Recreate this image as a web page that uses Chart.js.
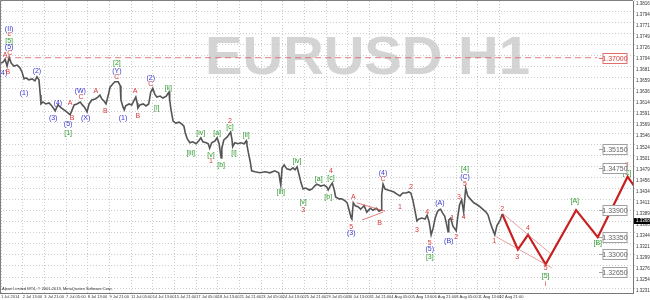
<!DOCTYPE html>
<html>
<head>
<meta charset="utf-8">
<script src="https://cdn.jsdelivr.net/npm/chart.js@4"></script>
<style>
  html, body { margin: 0; padding: 0; background: #fff; }
  canvas { display: block; }
</style>
</head>
<body>
<canvas id="eurusdChart" width="650" height="300"></canvas>
<script>
// time axis: one unit = one H1 bar, labels every 32 bars
const xTickBars = [0, 32, 64, 96, 128, 160, 192, 224, 256, 288, 320, 352, 384, 416, 448, 480, 512, 544, 576, 608, 640, 672, 704, 736];
const xTickLabels = ['1 Jul 2014', '2 Jul 13:00', '3 Jul 21:00', '7 Jul 05:00', '8 Jul 13:00', '9 Jul 21:00', '11 Jul 05:00',
    '14 Jul 13:00', '15 Jul 21:00', '17 Jul 05:00', '18 Jul 13:00', '21 Jul 21:00', '23 Jul 05:00', '24 Jul 13:00',
    '25 Jul 21:00', '29 Jul 05:00', '30 Jul 13:00', '31 Jul 21:00', '4 Aug 05:00', '5 Aug 13:00', '6 Aug 21:00',
    '8 Aug 05:00', '11 Aug 13:00', '12 Aug 21:00'];

const yTicks = [1.32315, 1.32540, 1.32765, 1.32990, 1.33215, 1.33440, 1.33665, 1.33890, 1.34115, 1.34340, 1.34565,
    1.34790, 1.35015, 1.35240, 1.35465, 1.35690, 1.35915, 1.36140, 1.36365, 1.36590, 1.36815, 1.37040, 1.37265,
    1.37490, 1.37715, 1.37940, 1.38165];
const yMin = 1.32216;
const yMax = 1.38153;

// EURUSD price path (bar index / price)
const priceBars = [0, 3, 6, 9, 12, 15, 19, 24, 28, 31, 34, 37, 41, 46, 50, 53, 56, 58, 59, 62, 66, 71, 75, 80, 84, 89, 93, 97,
    102, 105, 108, 112, 117, 120, 123, 127, 130, 134, 139, 143, 146, 149, 152, 155, 158, 161, 164, 168, 173, 176, 177, 180,
    182, 184, 189, 193, 196, 199, 201, 202, 205, 210, 214, 218, 221, 224, 227, 230, 235, 239, 244, 248, 249, 251, 254, 258,
    263, 267, 270, 272, 275, 279, 283, 288, 292, 295, 298, 303, 306, 308, 311, 316, 319, 322, 325, 326, 329, 334, 337, 339,
    341, 342, 345, 350, 354, 359, 362, 363, 365, 368, 370, 375, 382, 390, 397, 404, 410, 413, 415, 418, 422, 427, 431, 434,
    437, 440, 443, 446, 450, 455, 459, 463, 466, 469, 472, 477, 481, 483, 486, 489, 492, 494, 499, 503, 508, 511, 514, 517,
    518, 520, 523, 527, 531, 536, 540, 545, 549, 554, 558, 561, 562, 564, 567, 571, 576, 580, 584, 589, 593, 598, 602, 605,
    608, 611, 614, 617, 621, 626, 629, 632, 635, 638, 641, 644, 646, 649, 652, 655, 658, 660, 661, 664, 667, 672, 674, 677,
    680, 683, 686, 689, 694, 698, 703, 707, 711, 716, 719, 722, 725, 729, 732, 737, 740];
const priceValues = [1.3689, 1.3691, 1.3697, 1.3683, 1.3701, 1.3689, 1.3683, 1.3685, 1.3679, 1.3671, 1.3657, 1.3659, 1.3655,
    1.3657, 1.3653, 1.3661, 1.3655, 1.3624, 1.3606, 1.3610, 1.3606, 1.3608, 1.3602, 1.3592, 1.3604, 1.3598, 1.3594, 1.3590,
    1.3584, 1.3594, 1.3604, 1.3606, 1.3610, 1.3604, 1.3600, 1.3590, 1.3606, 1.3614, 1.3616, 1.3620, 1.3624, 1.3616, 1.3612,
    1.3606, 1.3622, 1.3640, 1.3645, 1.3651, 1.3651, 1.3643, 1.3614, 1.3600, 1.3594, 1.3602, 1.3606, 1.3604, 1.3612, 1.3620,
    1.3608, 1.3598, 1.3604, 1.3606, 1.3602, 1.3606, 1.3630, 1.3638, 1.3626, 1.3620, 1.3622, 1.3618, 1.3622, 1.3630, 1.3614,
    1.3594, 1.3571, 1.3567, 1.3569, 1.3565, 1.3561, 1.3547, 1.3535, 1.3527, 1.3529, 1.3525, 1.3531, 1.3537, 1.3529, 1.3527,
    1.3525, 1.3516, 1.3527, 1.3531, 1.3537, 1.3525, 1.3496, 1.3516, 1.3533, 1.3539, 1.3545, 1.3549, 1.3533, 1.3519, 1.3527,
    1.3525, 1.3527, 1.3525, 1.3531, 1.3523, 1.3508, 1.3488, 1.3470, 1.3468, 1.3466, 1.3468, 1.3466, 1.3470, 1.3466, 1.3441,
    1.3476, 1.3482, 1.3474, 1.3472, 1.3476, 1.3472, 1.3478, 1.3462, 1.3445, 1.3433, 1.3435, 1.3431, 1.3433, 1.3439, 1.3443,
    1.3441, 1.3439, 1.3441, 1.3437, 1.3431, 1.3439, 1.3445, 1.3431, 1.3417, 1.3413, 1.3413, 1.3409, 1.3405, 1.3390, 1.3374,
    1.3372, 1.3405, 1.3399, 1.3397, 1.3392, 1.3399, 1.3386, 1.3394, 1.3390, 1.3394, 1.3388, 1.3390, 1.3421, 1.3443, 1.3433,
    1.3431, 1.3429, 1.3427, 1.3423, 1.3419, 1.3425, 1.3425, 1.3427, 1.3425, 1.3411, 1.3390, 1.3368, 1.3372, 1.3374, 1.3372,
    1.3380, 1.3366, 1.3340, 1.3354, 1.3374, 1.3386, 1.3390, 1.3392, 1.3384, 1.3378, 1.3360, 1.3346, 1.3370, 1.3374, 1.3358,
    1.3348, 1.3374, 1.3401, 1.3411, 1.3386, 1.3435, 1.3419, 1.3411, 1.3405, 1.3401, 1.3397, 1.3392, 1.3386, 1.3380, 1.3366,
    1.3354, 1.3340, 1.3358, 1.3370, 1.3382];
const currentPrice = 1.3368;

// projected wave path
const projBars = [740, 763, 778, 804, 849, 881, 925, 943];
const projValues = [1.3382, 1.3310, 1.3340, 1.3280, 1.3390, 1.3335, 1.3458, 1.3423];

// thin channel / triangle lines
const channelTopBars = [740, 812];
const channelTopValues = [1.3384, 1.3301];
const channelLowBars = [731, 813];
const channelLowValues = [1.3336, 1.3273];
const triTopBars = [525, 567];
const triTopValues = [1.3405, 1.3388];
const triLowBars = [533, 564];
const triLowValues = [1.3370, 1.3386];

// horizontal levels with price boxes
const redLevel = 1.37;
const redLevelBars = [6, 880];
const grayLevels = [1.3515, 1.3475, 1.3390, 1.3335, 1.3300, 1.3265];

// wave labels: text, bar, price, colour
const waveLabels = [
    ['(II)', 12, 1.3758, 'b'], ['c', 12, 1.3748, 'r'], ['[5]', 12, 1.3734, 'g'], ['(5)', 12, 1.3722, 'b'],
    ['A', 6, 1.3706, 'r'], ['C', 13, 1.3710, 'r'], ['(4)', 3, 1.3669, 'b'], ['B', 10, 1.3671, 'r'],
    ['(1)', 34, 1.3628, 'b'], ['(2)', 53, 1.3673, 'b'], ['(3)', 77, 1.3577, 'b'], ['(4)', 84, 1.3608, 'b'],
    ['A', 102, 1.3608, 'r'], ['B', 105, 1.3577, 'r'], ['(5)', 99, 1.3565, 'b'], ['[1]', 99, 1.3547, 'g'],
    ['(W)', 117, 1.3632, 'b'], ['C', 118, 1.3620, 'r'], ['(X)', 125, 1.3577, 'b'], ['A', 140, 1.3632, 'r'],
    ['B', 154, 1.3592, 'r'], ['[2]', 171, 1.3689, 'g'], ['(Y)', 171, 1.3673, 'b'], ['C', 171, 1.3661, 'r'],
    ['(1)', 180, 1.3577, 'b'], ['A', 198, 1.3632, 'r'], ['B', 202, 1.3582, 'r'], ['(2)', 221, 1.3659, 'b'],
    ['C', 221, 1.3647, 'r'], ['[i]', 230, 1.3598, 'g'], ['[ii]', 247, 1.3638, 'g'], ['[iii]', 280, 1.3506, 'g'],
    ['[iv]', 295, 1.3547, 'g'], ['[v]', 310, 1.3502, 'g'], ['1', 310, 1.3490, 'r'], ['[a]', 319, 1.3547, 'g'],
    ['[b]', 325, 1.3482, 'g'], ['2', 338, 1.3571, 'r'], ['[c]', 338, 1.3559, 'g'], ['[i]', 344, 1.3506, 'g'],
    ['[ii]', 362, 1.3543, 'g'], ['[iii]', 413, 1.3427, 'g'], ['[iv]', 437, 1.3490, 'g'], ['[v]', 446, 1.3407, 'g'],
    ['3', 446, 1.3390, 'r'], ['[a]', 469, 1.3453, 'g'], ['4', 487, 1.3470, 'r'], ['[c]', 487, 1.3455, 'g'],
    ['[b]', 483, 1.3417, 'g'], ['5', 517, 1.3356, 'r'], ['(3)', 517, 1.3344, 'b'], ['A', 520, 1.3417, 'r'],
    ['B', 559, 1.3364, 'r'], ['(4)', 564, 1.3466, 'b'], ['C', 564, 1.3453, 'r'], ['1', 589, 1.3397, 'r'],
    ['2', 605, 1.3437, 'r'], ['3', 614, 1.3350, 'r'], ['4', 629, 1.3386, 'r'], ['5', 633, 1.3323, 'r'],
    ['(5)', 633, 1.3311, 'b'], ['[3]', 633, 1.3295, 'g'], ['(A)', 648, 1.3405, 'b'], ['1', 666, 1.3374, 'r'],
    ['(B)', 661, 1.3327, 'b'], ['2', 672, 1.3336, 'r'], ['3', 676, 1.3417, 'r'], ['4', 683, 1.3376, 'r'],
    ['5', 685, 1.3443, 'r'], ['(C)', 685, 1.3458, 'b'], ['[4]', 685, 1.3474, 'g'], ['1', 728, 1.3327, 'r'],
    ['2', 740, 1.3392, 'r'], ['3', 762, 1.3295, 'r'], ['4', 778, 1.3354, 'r'], ['5', 804, 1.3272, 'r'],
    ['[5]', 804, 1.3256, 'g'], ['i', 804, 1.3240, 'r'], ['[A]', 847, 1.3409, 'g'], ['[B]', 881, 1.3323, 'g'],
    ['[C]', 924, 1.3466, 'g'], ['ii', 924, 1.3482, 'r']
];
const waveColors = { r: '#d83a3a', b: '#3838d0', g: '#2f9a2f' };

const watermark = 'EURUSD H1';
const copyright = 'Alpari Limited MT4, \u00a9 2001-2013, MetaQuotes Software Corp.';

function points(bars, values) {
    return bars.map((b, i) => ({ x: b, y: values[i] }));
}

function lineSet(bars, values, color, width, dash) {
    return {
        data: points(bars, values),
        borderColor: color,
        borderWidth: width,
        borderDash: dash || [],
        pointRadius: 0,
        tension: 0,
        fill: false
    };
}

const chartDecor = {
    id: 'chartDecor',
    beforeDraw(chart) {
        const ctx = chart.ctx;
        ctx.save();
        ctx.fillStyle = '#ffffff';
        ctx.fillRect(0, 0, chart.width, chart.height);
        ctx.font = 'bold 53px "Liberation Sans", Arial, sans-serif';
        const w = ctx.measureText(watermark).width;
        ctx.translate(205, 74);
        ctx.scale(325 / w, 1);
        ctx.fillStyle = '#d4d4d4';
        ctx.textBaseline = 'alphabetic';
        ctx.fillText(watermark, 0, 0);
        ctx.restore();
    },
    afterDatasetsDraw(chart) {
        const ctx = chart.ctx;
        const xs = chart.scales.x;
        const ys = chart.scales.y;
        const area = chart.chartArea;

        ctx.save();
        // frame (left / top)
        ctx.strokeStyle = '#808080';
        ctx.lineWidth = 1;
        ctx.beginPath();
        ctx.moveTo(area.left + 0.5, area.bottom);
        ctx.lineTo(area.left + 0.5, area.top - 0.5);
        ctx.lineTo(area.right, area.top - 0.5);
        ctx.stroke();

        // wave labels
        ctx.font = '7px "Liberation Sans", Arial, sans-serif';
        ctx.textAlign = 'center';
        ctx.textBaseline = 'middle';
        waveLabels.forEach(([txt, bar, price, c]) => {
            ctx.fillStyle = waveColors[c];
            ctx.fillText(txt, xs.getPixelForValue(bar), ys.getPixelForValue(price));
        });

        // level boxes
        const boxLeft = area.right - 30;
        const drawBox = (price, color, textColor) => {
            const y = Math.round(ys.getPixelForValue(price)) + 0.5;
            ctx.strokeStyle = color;
            ctx.beginPath();
            ctx.moveTo(boxLeft - 4, y);
            ctx.lineTo(boxLeft, y);
            ctx.stroke();
            ctx.fillStyle = '#fff';
            ctx.fillRect(boxLeft, y - 5, 24, 10);
            ctx.strokeRect(boxLeft, y - 5, 24, 10);
            ctx.fillStyle = textColor;
            ctx.font = '7px "Liberation Sans", Arial, sans-serif';
            ctx.textAlign = 'center';
            ctx.fillText(price.toFixed(5), boxLeft + 12, y + 0.5);
        };
        drawBox(redLevel, '#e07070', '#d83a3a');
        grayLevels.forEach(p => drawBox(p, '#a0a0a0', '#666'));

        // current price marker on the axis
        const cy = ys.getPixelForValue(currentPrice);
        ctx.fillStyle = '#000';
        ctx.fillRect(area.right + 1, cy - 3, 17, 6);
        ctx.fillStyle = '#fff';
        ctx.font = '4.5px "Liberation Sans", Arial, sans-serif';
        ctx.textAlign = 'left';
        ctx.fillText(currentPrice.toFixed(5), area.right + 3, cy);

        // copyright line
        ctx.fillStyle = '#333';
        ctx.font = '4px "Liberation Sans", Arial, sans-serif';
        ctx.textBaseline = 'alphabetic';
        ctx.fillText(copyright, area.left + 2, area.bottom - 3);
        ctx.restore();
    }
};

const ctx = document.getElementById('eurusdChart').getContext('2d');
new Chart(ctx, {
    type: 'line',
    data: {
        datasets: [
            lineSet(redLevelBars, [redLevel, redLevel], 'rgba(220,90,90,0.8)', 1, [6, 4]),
            lineSet(triTopBars, triTopValues, 'rgba(220,80,80,0.75)', 1),
            lineSet(triLowBars, triLowValues, 'rgba(220,80,80,0.75)', 1),
            lineSet(channelTopBars, channelTopValues, 'rgba(220,100,100,0.6)', 1),
            lineSet(channelLowBars, channelLowValues, 'rgba(220,100,100,0.6)', 1),
            lineSet(priceBars, priceValues, '#555555', 1.6),
            lineSet(projBars, projValues, '#c82020', 2.2)
        ]
    },
    options: {
        responsive: false,
        animation: false,
        layout: { padding: { top: 1, left: 0, right: 0, bottom: 0 } },
        plugins: {
            legend: { display: false },
            tooltip: { enabled: false }
        },
        scales: {
            x: {
                type: 'linear',
                min: -1.5,
                max: 933,
                afterBuildTicks: (scale) => {
                    scale.ticks = xTickBars.map(v => ({ value: v }));
                },
                afterFit: (scale) => {
                    scale.height = 7;
                    scale.paddingLeft = 0;
                    scale.paddingRight = 0;
                },
                ticks: {
                    autoSkip: false,
                    maxRotation: 0,
                    align: 'start',
                    padding: 1,
                    color: '#333',
                    font: { size: 4, family: '"Liberation Sans", Arial, sans-serif' },
                    callback: (v, i) => xTickLabels[i]
                },
                grid: { color: '#cccccc', drawTicks: false },
                border: { color: '#777', dash: [1, 2] }
            },
            y: {
                position: 'right',
                min: yMin,
                max: yMax,
                afterBuildTicks: (scale) => {
                    scale.ticks = yTicks.map(v => ({ value: v }));
                },
                afterFit: (scale) => {
                    scale.width = 17;
                    scale.paddingTop = 0;
                    scale.paddingBottom = 0;
                },
                ticks: {
                    padding: 1,
                    labelOffset: 3,
                    color: '#333',
                    font: { size: 4.5, family: '"Liberation Sans", Arial, sans-serif' },
                    callback: (v) => Number(v).toFixed(5)
                },
                grid: { color: '#cccccc', tickLength: 2 },
                border: { color: '#777', dash: [1, 2] }
            }
        }
    },
    plugins: [chartDecor]
});
</script>
</body>
</html>
